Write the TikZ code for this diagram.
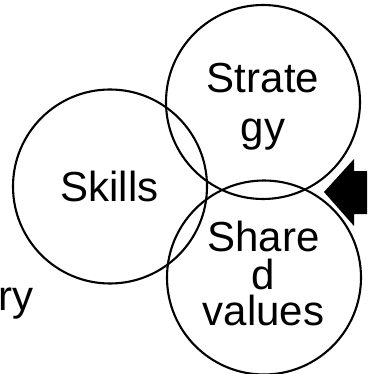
\documentclass[tikz,border=0pt]{standalone}
\usepackage{fontspec}
\setmainfont{Liberation Sans}
\begin{document}
\begin{tikzpicture}[x=1pt,y=-1pt,
  ring/.style={circle,draw=black,line width=2.1pt,minimum size=194pt,inner sep=0pt},
  lbl/.style={anchor=base,inner sep=0pt,font=\fontsize{42}{48}\selectfont}]
\useasboundingbox (0,0) rectangle (367,374);
\node[ring] (skills) at (110,186.5) {};
\node[ring] (strategy) at (263,102) {};
\node[ring] (shared) at (264,277.5) {};
\node[lbl] (t1) at (109.5,201) {Skills};
\node[lbl] (t2) at (263,93) {Strate};
\node[lbl] (t3) at (263,142) {gy};
\node[lbl] (t4) at (263.5,251) {Share};
\node[lbl] (t5) at (263.5,289) {d};
\node[lbl] (t6) at (263.5,325) {values};
\node[lbl,anchor=base east] (t7) at (34,310) {ry};
\begin{scope}
\clip (0,0) rectangle (367,374);
\fill[black,preaction={draw=white,line width=6pt,line join=miter}]
  (324,192) -- (354,159) -- (354,171) -- (380,171) -- (380,214) -- (354,214) -- (354,226) -- cycle;
\end{scope}
\end{tikzpicture}
\end{document}
